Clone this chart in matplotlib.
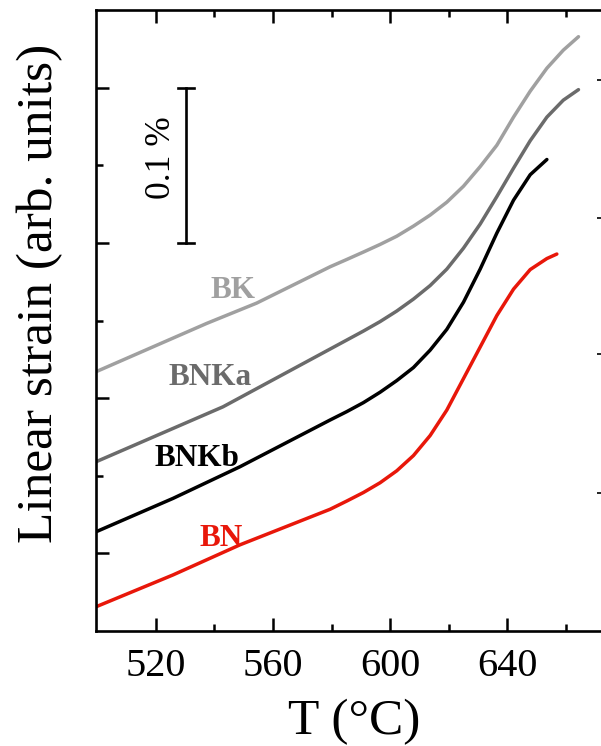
"""Linear thermal strain of the BN / BNKb / BNKa / BK ceramics vs temperature.

Curves are offset vertically (arbitrary units); the bar gives the 0.1 % scale.
"""

import matplotlib
matplotlib.use("Agg")
import matplotlib.pyplot as plt
from matplotlib.ticker import FixedLocator

plt.rcParams["font.family"] = ["Liberation Serif", "DejaVu Serif"]

# temperature (degC) and strain (%) for each composition
T_bk = [499.5, 537.3, 554.4, 579.5, 585.2, 590.9, 596.6, 602.3, 608.0, 613.7,
        619.4, 625.1, 630.8, 636.5, 642.2, 647.9, 653.6, 659.2, 664.4]
s_bk = [0.1670, 0.1981, 0.2112, 0.2346, 0.2393, 0.2441, 0.2490, 0.2543, 0.2608,
        0.2679, 0.2762, 0.2865, 0.2991, 0.3129, 0.3310, 0.3477, 0.3625, 0.3741,
        0.3828]

T_bnka = [499.5, 542.9, 579.5, 585.2, 590.9, 596.6, 602.3, 608.0, 613.7, 619.4,
          625.1, 630.8, 636.5, 642.2, 647.9, 653.6, 659.2, 664.4]
s_bnka = [0.1090, 0.1444, 0.1816, 0.1874, 0.1932, 0.1993, 0.2061, 0.2138, 0.2225,
          0.2331, 0.2466, 0.2621, 0.2798, 0.2981, 0.3158, 0.3310, 0.3419, 0.3487]

T_bnkb = [499.5, 525.8, 548.7, 579.5, 585.2, 590.9, 596.6, 602.3, 608.0, 613.7,
          619.4, 625.1, 630.8, 636.5, 642.2, 647.9, 653.6]
s_bnkb = [0.0639, 0.0854, 0.1058, 0.1359, 0.1413, 0.1471, 0.1538, 0.1613, 0.1697,
          0.1809, 0.1943, 0.2118, 0.2331, 0.2563, 0.2775, 0.2939, 0.3037]

T_bn = [499.5, 525.8, 548.7, 579.5, 585.2, 590.9, 596.6, 602.3, 608.0, 613.7,
        619.4, 625.1, 630.8, 636.5, 642.2, 647.9, 653.6, 657.0]
s_bn = [0.0156, 0.0361, 0.0555, 0.0784, 0.0837, 0.0892, 0.0955, 0.1032, 0.1130,
        0.1259, 0.1423, 0.1626, 0.1829, 0.2032, 0.2202, 0.2328, 0.2399, 0.2428]

names = ["BK", "BNKa", "BNKb", "BN"]
colors = ["#a0a0a0", "#6b6b6b", "#000000", "#e8170a"]
label_T = [546.2, 538.4, 534.0, 542.1]
label_s = [0.2146, 0.1584, 0.1064, 0.0549]

right_ticks = [0.0886, 0.1782, 0.2663, 0.3552]

fig = plt.figure(figsize=(6.01, 7.46), dpi=100)
ax = fig.add_axes([96 / 601, 115 / 746, 505 / 601, 621 / 746])

series = [(T_bk, s_bk), (T_bnka, s_bnka), (T_bnkb, s_bnkb), (T_bn, s_bn)]
for (T, s), c in zip(series, colors):
    ax.plot(T, s, color=c, lw=2.5, solid_capstyle="round",
            solid_joinstyle="round")

for name, c, x, y in zip(names, colors, label_T, label_s):
    ax.text(x, y, name, color=c, fontsize=22.5, fontweight="bold",
            ha="center", va="baseline")

# 0.1 % scale bar
bar_T, bar_lo, bar_hi = 530.3, 0.25, 0.35
ax.plot([bar_T, bar_T], [bar_lo, bar_hi], color="black", lw=1.9)
for y in (bar_lo, bar_hi):
    ax.plot([bar_T - 2.7, bar_T + 2.7], [y, y], color="black", lw=1.9)
ax.text(521.9, 0.3052, "0.1 %", rotation=90, fontsize=25.5,
        ha="center", va="center")

ax.set_xlim(499.5, 672.1)
ax.set_ylim(0, 0.4)
ax.xaxis.set_major_locator(FixedLocator([520, 560, 600, 640]))
ax.xaxis.set_minor_locator(FixedLocator([540, 580, 620, 660]))
ax.yaxis.set_major_locator(FixedLocator([0.05, 0.15, 0.25, 0.35]))
ax.yaxis.set_minor_locator(FixedLocator([0.1, 0.2, 0.3]))
ax.tick_params(which="both", direction="in", top=True, right=False,
               labelleft=False, width=1.8, labelsize=29, pad=12)
ax.tick_params(which="major", length=9.5)
ax.tick_params(which="minor", length=4.8)
for side in ("left", "bottom", "top"):
    ax.spines[side].set_linewidth(1.9)
ax.spines["right"].set_visible(False)

# independent ticks on the right edge
ax2 = ax.twinx()
ax2.set_ylim(ax.get_ylim())
ax2.yaxis.set_major_locator(FixedLocator(right_ticks))
ax2.tick_params(direction="in", length=3.2, width=1.2, labelright=False)
for side in ax2.spines:
    ax2.spines[side].set_visible(False)

ax.set_xlabel("T (°C)", fontsize=37)
ax.xaxis.label.set_va("baseline")
ax.xaxis.set_label_coords(0.511, -0.1665)
ax.set_ylabel("Linear strain (arb. units)", fontsize=37)
ax.yaxis.label.set_va("center")
ax.yaxis.set_label_coords(-0.112, 0.543)

fig.savefig("out.png", dpi=100)
